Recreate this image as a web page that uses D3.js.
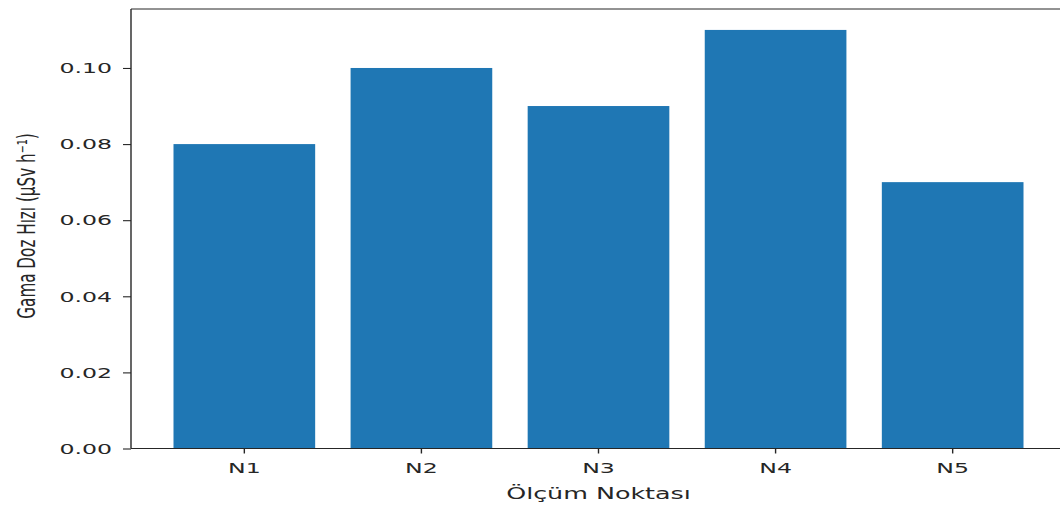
<!DOCTYPE html>
<html>
<head>
<meta charset="utf-8">
<script src="https://cdn.jsdelivr.net/npm/d3@7"></script>
<style>
  html, body { margin: 0; padding: 0; background: #fff; }
  svg { display: block; font-family: "DejaVu Sans", sans-serif; }
</style>
</head>
<body>
<svg id="chart" width="1060" height="505"></svg>
<script>
// Measurement points and gamma dose rates (µSv/h)
const categories = ["N1", "N2", "N3", "N4", "N5"];
const doseRates = [0.08, 0.10, 0.09, 0.11, 0.07];
const yTicks = [0.00, 0.02, 0.04, 0.06, 0.08, 0.10];
const xLabel = "Ölçüm Noktası";
const yLabel = "Gama Doz Hızı (µSv h⁻¹)";

const W = 1060, H = 505;
const plot = { left: 131, right: 1066, top: 9, bottom: 448.5 };
// glyphs are drawn wider than tall, as in the exported figure
const SX = 1.75, SY = 1.05;
const ink = "#262626";
const barColor = "#1f77b4";

const svg = d3.select("#chart");

const x = d3.scaleBand()
  .domain(categories)
  .range([plot.left, plot.right])
  .paddingInner(0.2)
  .paddingOuter(0.24);

const yMax = d3.max(doseRates) * 1.05;
const y = d3.scaleLinear().domain([0, yMax]).range([plot.bottom, plot.top]);

// bars
svg.append("g").selectAll("rect")
  .data(categories.map((c, i) => ({ c, v: doseRates[i] })))
  .join("rect")
  .attr("x", d => x(d.c))
  .attr("width", x.bandwidth())
  .attr("y", d => y(d.v))
  .attr("height", d => y(0) - y(d.v))
  .attr("fill", barColor);

// axes (ticks only; labels drawn as stretched text below)
const yAxis = d3.axisLeft(y).tickValues(yTicks).tickSize(8).tickFormat("");
const gy = svg.append("g").attr("transform", `translate(${plot.left},0)`).call(yAxis);
gy.select(".domain").remove();
gy.selectAll(".tick line").attr("stroke", ink).attr("stroke-width", 1.1);

const xAxis = d3.axisBottom(x).tickSize(5).tickFormat("");
const gx = svg.append("g").attr("transform", `translate(0,${plot.bottom})`).call(xAxis);
gx.select(".domain").remove();
gx.selectAll(".tick line").attr("stroke", ink).attr("stroke-width", 1.4);

// frame
const frame = svg.append("g").attr("fill", "none").attr("stroke", ink);
frame.append("line").attr("x1", plot.left).attr("x2", plot.left)
  .attr("y1", plot.top).attr("y2", plot.bottom).attr("stroke-width", 1.4);
frame.append("line").attr("x1", plot.right).attr("x2", plot.right)
  .attr("y1", plot.top).attr("y2", plot.bottom).attr("stroke-width", 1.4);
frame.append("line").attr("x1", plot.left).attr("x2", plot.right)
  .attr("y1", plot.top).attr("y2", plot.top).attr("stroke-width", 1);
frame.append("line").attr("x1", plot.left).attr("x2", plot.right)
  .attr("y1", plot.bottom).attr("y2", plot.bottom).attr("stroke-width", 1);

function stretchedText(px, py, str, anchor, rotate) {
  return svg.append("text")
    .attr("transform", `translate(${px},${py}) scale(${SX},${SY})` + (rotate ? ` rotate(${rotate})` : ""))
    .attr("text-anchor", anchor)
    .attr("fill", ink)
    .attr("font-size", 13.5)
    .text(str);
}

// y tick labels
yTicks.forEach(t => {
  stretchedText(plot.left - 19, y(t) + 5.3, d3.format(".2f")(t), "end");
});

// x tick labels
categories.forEach(c => {
  stretchedText(x(c) + x.bandwidth() / 2, plot.bottom + 24, c, "middle");
});

// axis titles
stretchedText((plot.left + plot.right) / 2, plot.bottom + 50, xLabel, "middle")
  .attr("font-size", 14.5);
stretchedText(35, 226, yLabel, "middle", -90)
  .attr("font-size", 14.5);
</script>
</body>
</html>
